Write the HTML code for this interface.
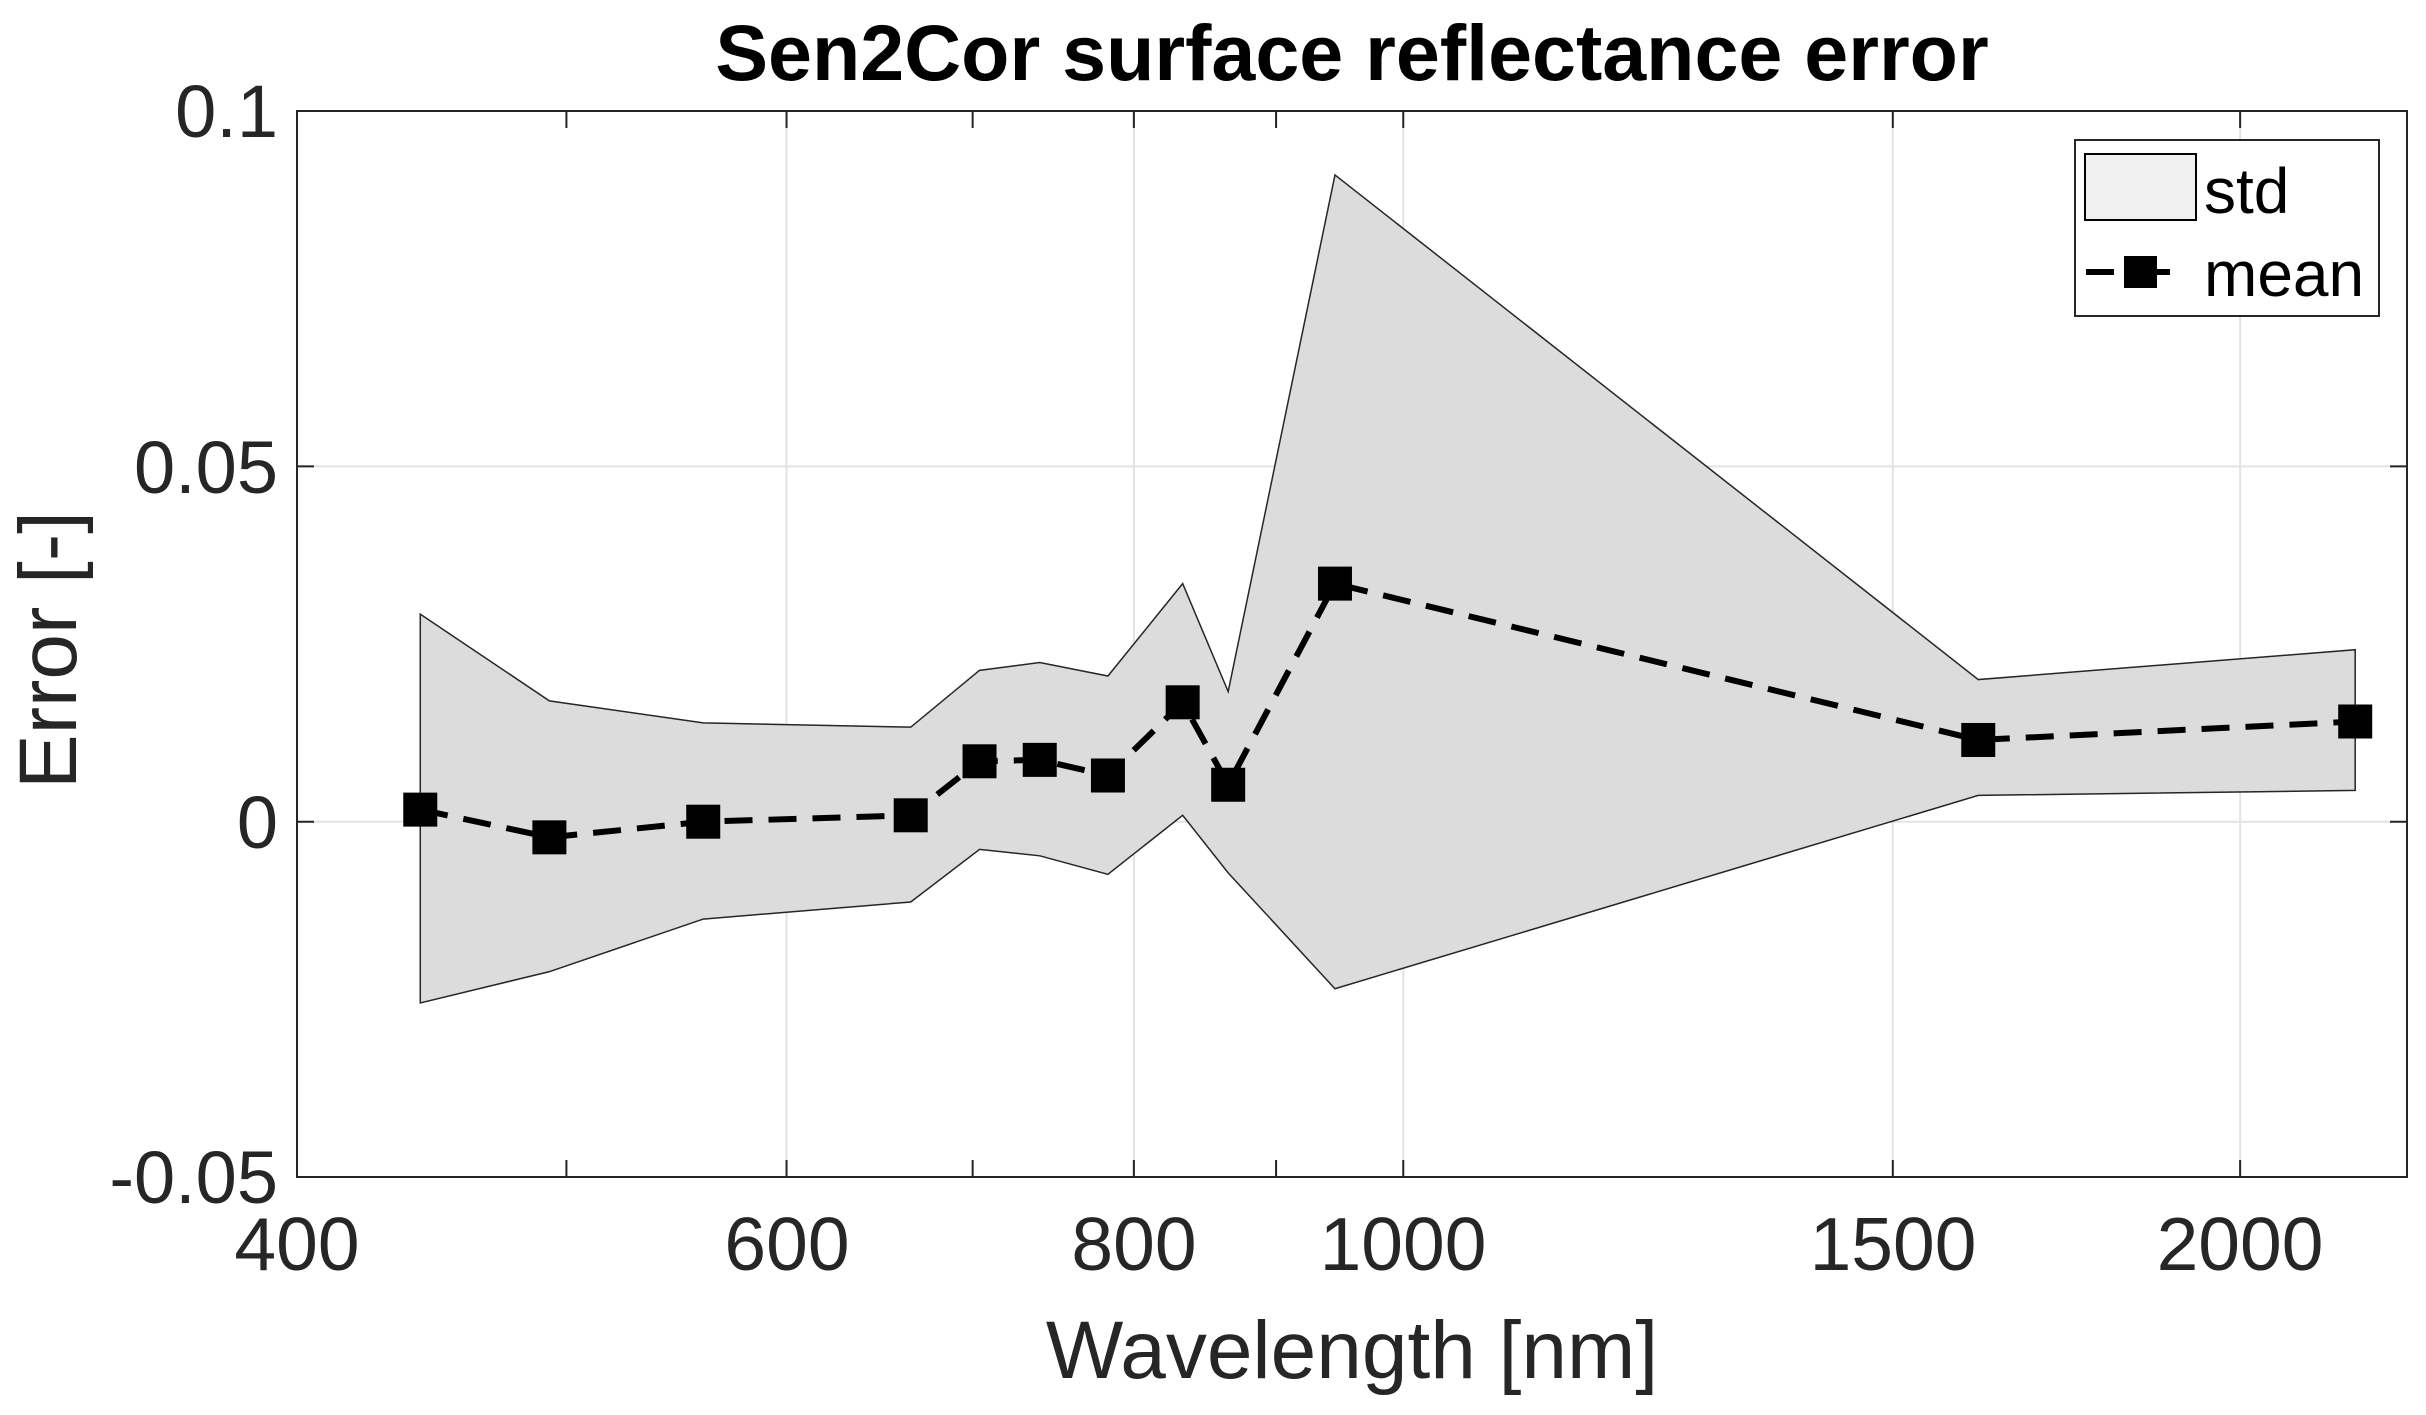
<!DOCTYPE html>
<html><head><meta charset="utf-8"><style>
html,body{margin:0;padding:0;background:#fff;}
svg{display:block;}
text{font-family:"Liberation Sans",Arial,sans-serif;fill:#262626;}
</style></head><body>
<svg id="s" width="2426" height="1415" viewBox="0 0 2426 1415" xmlns="http://www.w3.org/2000/svg">
<rect width="2426" height="1415" fill="#fff"/>
<g id="grid" stroke="#e3e3e3" stroke-width="2"></g>
<polygon id="band" fill="#dcdcdc" stroke="#262626" stroke-width="1.5"/>
<polyline id="mean" fill="none" stroke="#000" stroke-width="6" stroke-dasharray="28,16"/>
<g id="marks" fill="#000"></g>
<rect x="297" y="111" width="2110" height="1066" fill="none" stroke="#262626" stroke-width="2"/>
<g id="ticks" stroke="#262626" stroke-width="2"></g>
<text x="1352" y="80" text-anchor="middle" font-size="79" font-weight="bold" style="fill:#000">Sen2Cor surface reflectance error</text>
<g font-size="74" text-anchor="end">
<text x="278" y="137">0.1</text>
<text x="278" y="493">0.05</text>
<text x="278" y="848">0</text>
<text x="278" y="1203">-0.05</text>
</g>
<g font-size="75" text-anchor="middle">
<text x="297" y="1270">400</text>
<text x="787" y="1270">600</text>
<text x="1134" y="1270">800</text>
<text x="1403" y="1270">1000</text>
<text x="1893" y="1270">1500</text>
<text x="2240" y="1270">2000</text>
</g>
<text x="1352" y="1378" text-anchor="middle" font-size="82">Wavelength [nm]</text>
<text transform="translate(76,650) rotate(-90)" text-anchor="middle" font-size="82">Error [-]</text>
<rect x="2075" y="140" width="304" height="176" fill="#fff" stroke="#262626" stroke-width="2"/>
<rect x="2085" y="154" width="111" height="66" fill="#f0f0f0" stroke="#000" stroke-width="2"/>
<text x="2204" y="213" font-size="64" style="fill:#000">std</text>
<line x1="2086" y1="272" x2="2114" y2="272" stroke="#000" stroke-width="6"/>
<line x1="2150" y1="272" x2="2170" y2="272" stroke="#000" stroke-width="6"/>
<rect x="2124" y="256" width="33" height="32" fill="#000"/>
<text x="2204" y="296" font-size="64" style="fill:#000">mean</text>
</svg>
<script>
var wl=[443,493,560,665,704,740,783,833,865,945,1610,2200];
var mn=[0.0017,-0.0022,0,0.0009,0.0085,0.0087,0.0065,0.0168,0.0052,0.0335,0.0115,0.0141];
var up=[0.0292,0.0170,0.0139,0.0133,0.0213,0.0224,0.0205,0.0335,0.0183,0.0910,0.0200,0.0242];
var lo=[-0.0255,-0.0211,-0.0137,-0.0113,-0.0039,-0.0048,-0.0074,0.0009,-0.0072,-0.0235,0.0037,0.0044];
function X(w){return 297+2780*Math.log10(w/400);}
function Y(v){return 111+(0.1-v)*7107;}
var p=[];for(var i=0;i<wl.length;i++)p.push(X(wl[i])+","+Y(up[i]));
for(var i=wl.length-1;i>=0;i--)p.push(X(wl[i])+","+Y(lo[i]));
document.getElementById('band').setAttribute('points',p.join(' '));
var m=[];var mk='';for(var i=0;i<wl.length;i++){m.push(X(wl[i])+","+Y(mn[i]));mk+='<rect x="'+(X(wl[i])-17)+'" y="'+(Y(mn[i])-17)+'" width="34" height="34"/>';}
document.getElementById('mean').setAttribute('points',m.join(' '));
document.getElementById('marks').innerHTML=mk;
var g='';[600,800,1000,1500,2000].forEach(function(w){var x=X(w);g+='<line x1="'+x+'" y1="111" x2="'+x+'" y2="1177"/>';});
[0.05,0].forEach(function(v){var y=Y(v);g+='<line x1="297" y1="'+y+'" x2="2407" y2="'+y+'"/>';});
document.getElementById('grid').innerHTML=g;
var t='';[400,500,600,700,800,900,1000,1500,2000].forEach(function(w){var x=X(w);t+='<line x1="'+x+'" y1="1177" x2="'+x+'" y2="1160"/><line x1="'+x+'" y1="111" x2="'+x+'" y2="128"/>';});
[0.1,0.05,0,-0.05].forEach(function(v){var y=Y(v);t+='<line x1="297" y1="'+y+'" x2="314" y2="'+y+'"/><line x1="2407" y1="'+y+'" x2="2390" y2="'+y+'"/>';});
document.getElementById('ticks').innerHTML=t;
</script>
</body></html>
